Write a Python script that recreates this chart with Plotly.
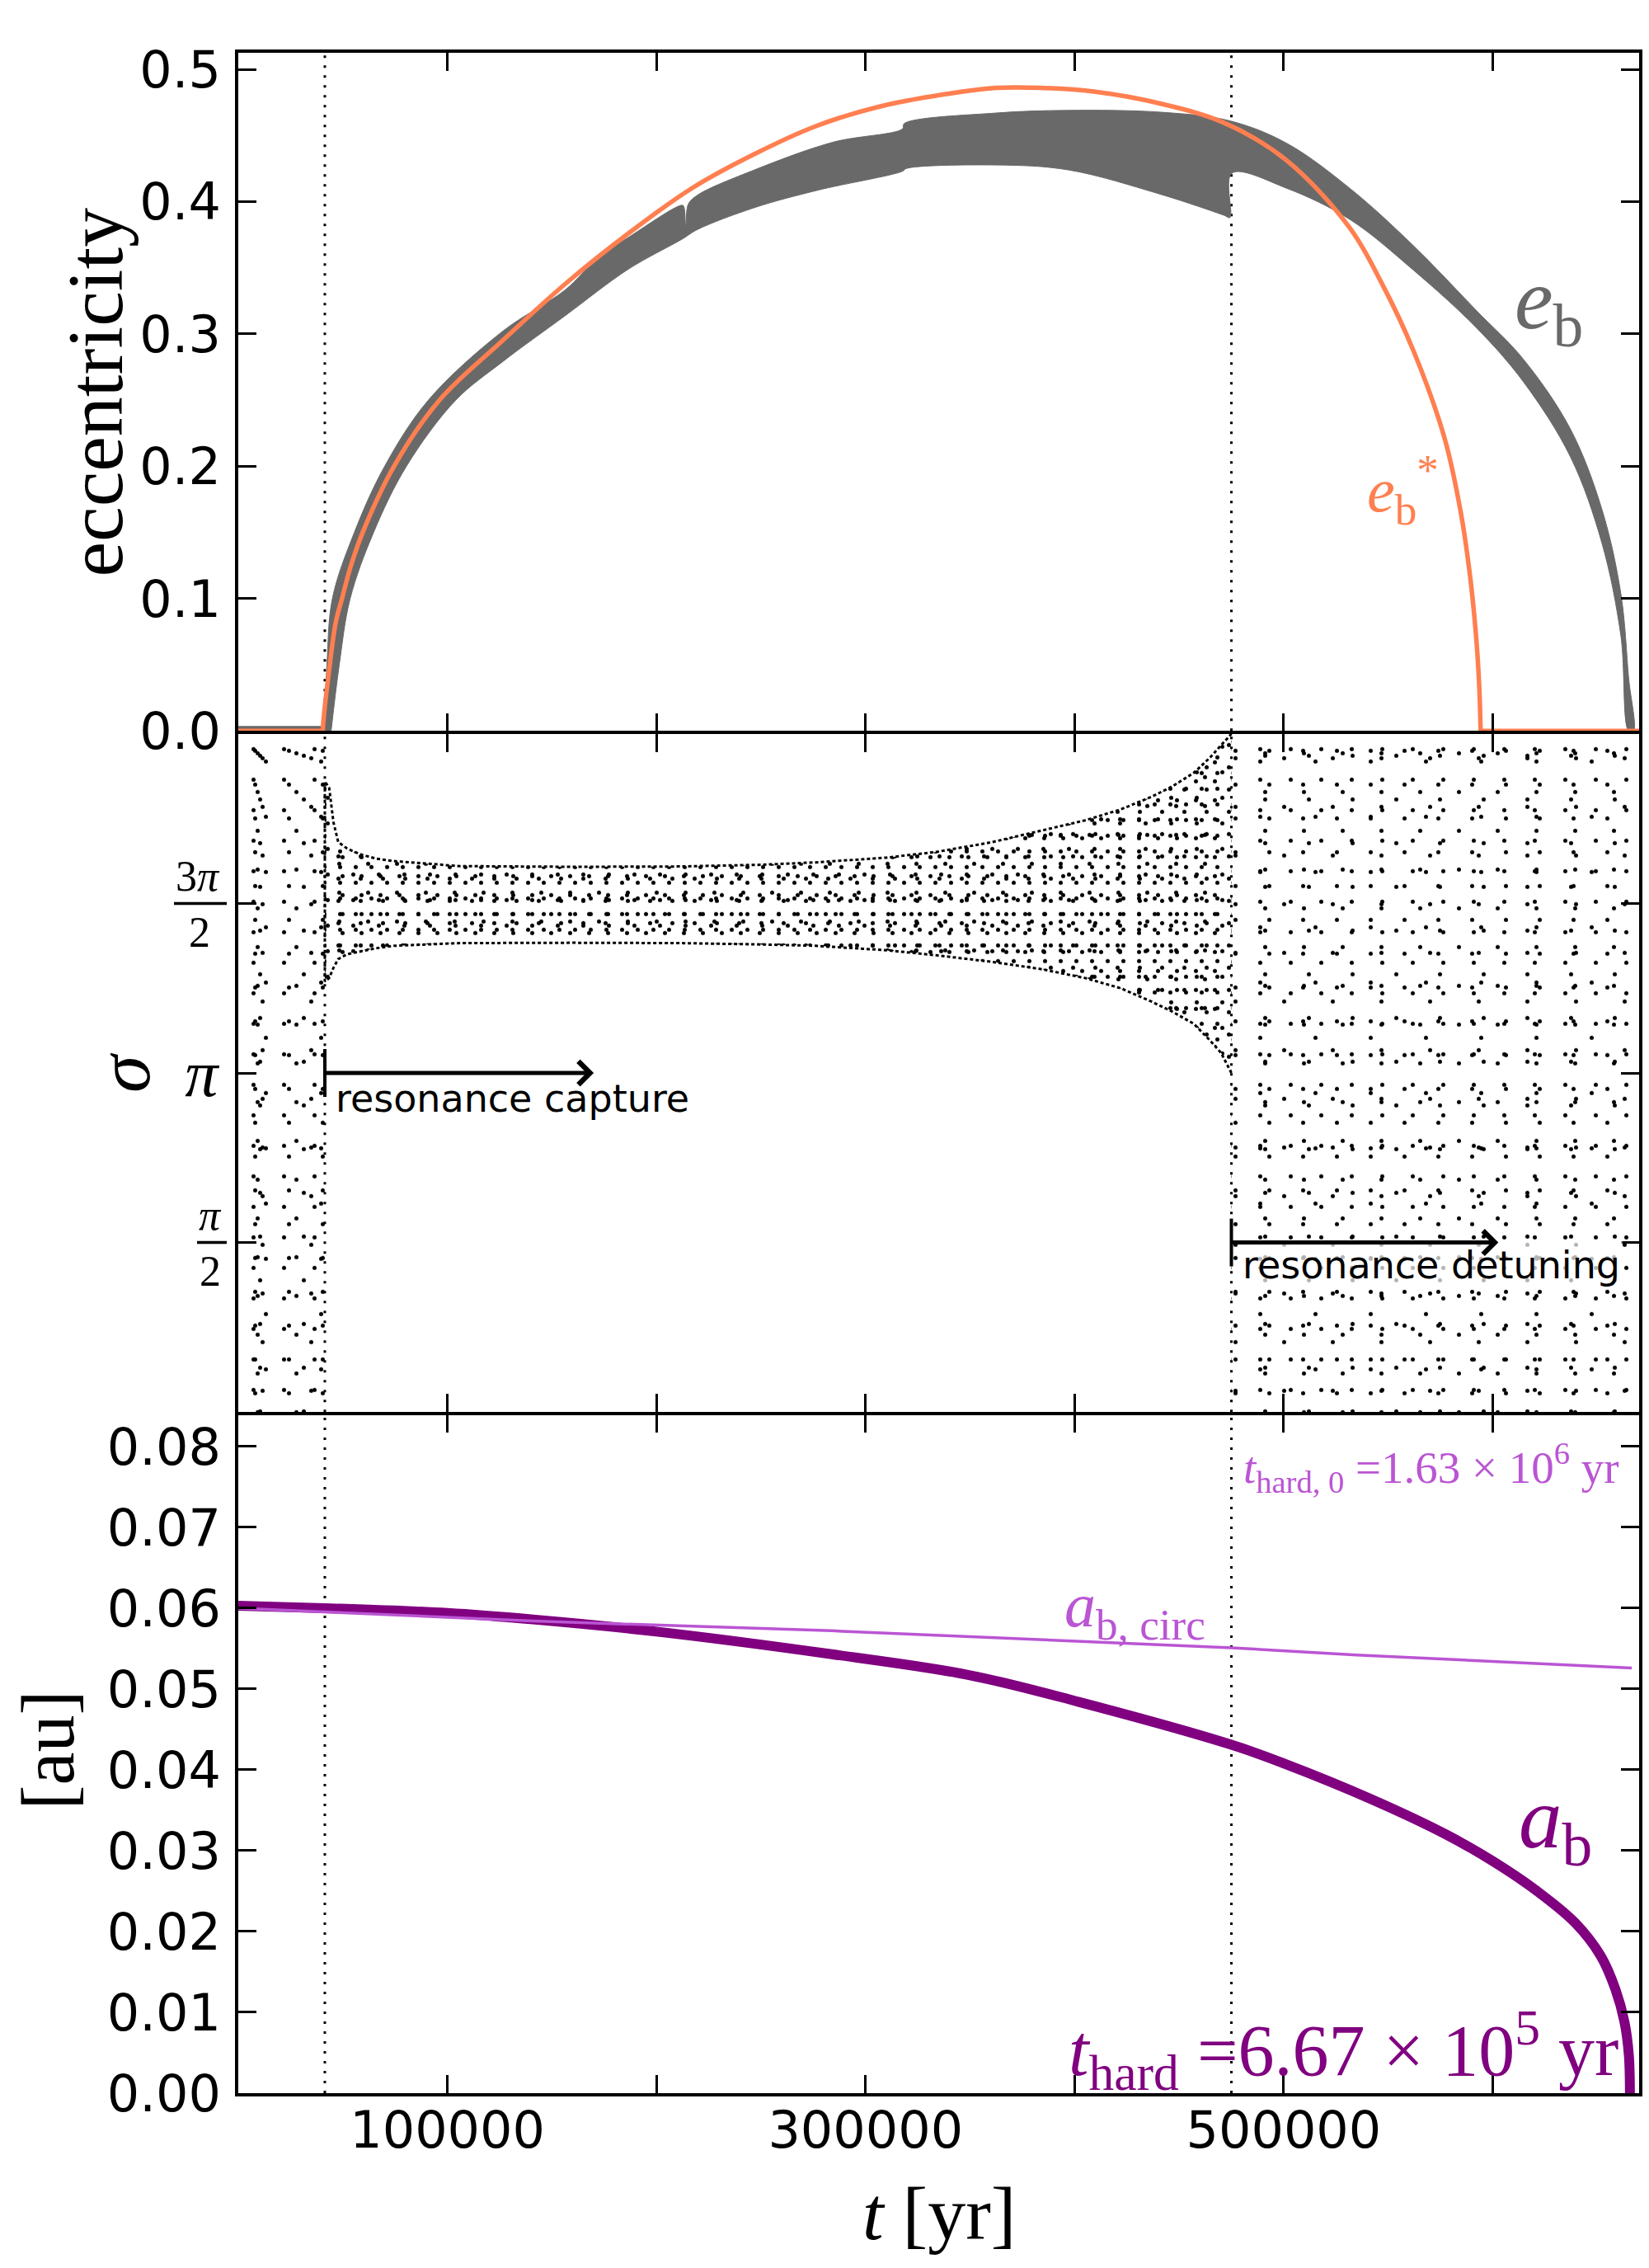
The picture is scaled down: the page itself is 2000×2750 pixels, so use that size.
import numpy as np
import plotly.graph_objects as go
from plotly.subplots import make_subplots

# ---------------------------------------------------------------- data
# key times [yr]
t_start = 0
t_capture = 41400
t_detune = 475000
t_end = 670000

# e_b* (equilibrium eccentricity)
estar_pre_t = [t_start, 40400]
estar_pre = [0.0, 0.0]
estar_t = [40400, 40800, 43000, 46600, 49600, 53500, 59500, 74500, 96200,
           126400, 156500, 186600, 216800, 246900, 277000, 307100, 337300,
           362600, 384000, 410000, 441300, 471500, 501600, 531700, 546800,
           561900, 577000, 584500, 589000, 592000, 593500, 594200]
estar = [0.0, 0.009, 0.040, 0.082, 0.100, 0.123, 0.150, 0.200, 0.250,
         0.295, 0.338, 0.376, 0.410, 0.436, 0.4575, 0.472, 0.481,
         0.486, 0.486, 0.483, 0.474, 0.4596, 0.431, 0.380, 0.3387,
         0.288, 0.221, 0.167, 0.119, 0.072, 0.035, 0.0]
estar_post_t = [594200, t_end]
estar_post = [0.0, 0.0]

# e_b oscillation band: upper and lower envelopes
eb_pre_t = [t_start, 41100]
eb_pre = [0.0, 0.0]
eb_up_t = [41100, 42400, 45000, 55500, 70000, 90900, 126400, 156500,
           171600, 186600, 210600, 212800, 214000, 215200, 219700, 246900,
           284600, 317700, 318500, 362600, 397000, 441300, 474500, 501600,
           531700, 561900, 592000, 614600, 637200, 652300, 661300, 665000, 667300]
eb_up = [0.0, 0.05, 0.10, 0.15, 0.20, 0.25, 0.302, 0.3335,
         0.357, 0.373, 0.3966, 0.397, 0.382, 0.398, 0.405, 0.424,
         0.445, 0.455, 0.459, 0.467, 0.469, 0.4676, 0.461, 0.444,
         0.410, 0.367, 0.318, 0.281, 0.228, 0.167, 0.1035, 0.04, 0.0]
eb_lo_t = [44400, 48300, 53500, 64700, 80400, 104000, 126400, 156500, 186600,
           212200, 219700, 246900, 277000, 317700, 319400, 362600, 397000,
           441300, 471500, 474300, 475200, 501600, 531700, 561900, 592000,
           614600, 637200, 652300, 661300, 665000]
eb_lo = [0.0, 0.05, 0.10, 0.15, 0.20, 0.25, 0.279, 0.314, 0.349,
         0.3716, 0.379, 0.3955, 0.4086, 0.423, 0.425, 0.4277, 0.424,
         0.4055, 0.3897, 0.388, 0.4215, 0.410, 0.3865, 0.3485, 0.305,
         0.264, 0.207, 0.1415, 0.0717, 0.0]

# resonant angle sigma: libration band envelopes (units of pi)
band_t = [41400, 43500, 45500, 47800, 52000, 58300, 66000, 74200, 106000,
          160000, 211300, 250000, 276000, 310000, 334000, 360000, 384300,
          405000, 422000, 437000, 447000, 457000, 464600, 470000, 475000]
band_up = [1.86, 1.84, 1.74, 1.681, 1.662, 1.645, 1.632, 1.625, 1.610,
           1.608, 1.609, 1.614, 1.621, 1.635, 1.652, 1.68, 1.715,
           1.745, 1.777, 1.815, 1.846, 1.885, 1.929, 1.965, 2.0]
band_lo = [1.27, 1.28, 1.31, 1.336, 1.35, 1.359, 1.368, 1.375, 1.383,
           1.384, 1.383, 1.379, 1.375, 1.362, 1.347, 1.328, 1.306,
           1.28, 1.25, 1.21, 1.18, 1.145, 1.097, 1.06, 1.0]
sigma_min, sigma_max = 0.0, 2.0   # circulating regions cover the full circle

# semi-major axis [au]
ab_t = [0, 41400, 100000, 141000, 200000, 283800, 350000, 402000, 475000,
        500000, 542500, 577700, 600000, 621700, 639300, 651600, 658600,
        663000, 665100, 665600]
ab = [0.0603, 0.0600, 0.0594, 0.0586, 0.0571, 0.0543, 0.0517, 0.0484, 0.0431,
      0.0408, 0.0363, 0.0320, 0.0287, 0.0249, 0.0211, 0.0170, 0.0129,
      0.0088, 0.0047, 0.0]
acirc_t = [0, 141000, 283800, 402000, 475000, 535000, 666500]
acirc = [0.0600, 0.0584, 0.0572, 0.0559, 0.0551, 0.0542, 0.0526]

x_tickvals = [0, 100000, 200000, 300000, 400000, 500000, 600000]
x_ticktext = ['', '100000', '', '300000', '', '500000', '']

GRAY = '#696969'
CORAL = '#FF7F50'
PURPLE = '#800080'
ORCHID = '#BA55D3'
SERIF = 'Liberation Serif'
SANS = 'DejaVu Sans'

PI = np.pi
LW = 3.5

fig = make_subplots(rows=3, cols=1, shared_xaxes=True,
                    vertical_spacing=LW / 2474)

# ---------------------------------------------------------------- panel 1
fig.add_trace(go.Scatter(x=eb_pre_t, y=eb_pre, mode='lines',
                         line=dict(color=GRAY, width=12)), row=1, col=1)
fig.add_trace(go.Scatter(x=eb_up_t + eb_lo_t[::-1], y=eb_up + eb_lo[::-1],
                         mode='lines', fill='toself', fillcolor=GRAY,
                         line=dict(color=GRAY, width=1, shape='spline', smoothing=1.0)),
              row=1, col=1)
for xs, ys, shp in [(estar_pre_t, estar_pre, 'linear'), (estar_t, estar, 'spline'),
                    (estar_post_t, estar_post, 'linear')]:
    fig.add_trace(go.Scatter(x=xs, y=ys, mode='lines',
                             line=dict(color=CORAL, width=5.5, shape=shp, smoothing=1.0)),
                  row=1, col=1)

# ---------------------------------------------------------------- panel 2
def stipple(xs, ys, sizes, dot_r=2.5):
    for size in sizes:
        fig.add_trace(go.Scatter(
            x=xs, y=ys, mode='lines', fill='toself',
            fillcolor='rgba(0,0,0,0)', line=dict(width=0),
            fillpattern=dict(shape='.', size=size,
                             solidity=PI * dot_r ** 2 / size ** 2,
                             fgcolor='black', bgcolor='rgba(0,0,0,0)',
                             fgopacity=1),
            hoverinfo='skip'), row=2, col=1)


for ta, tb in [(t_start, t_capture), (t_detune, t_end)]:
    stipple([ta, tb, tb, ta],
            [sigma_min * PI, sigma_min * PI, sigma_max * PI, sigma_max * PI],
            [37, 41, 47, 53, 59, 67])

band_x = band_t + band_t[::-1]
band_y = [v * PI for v in band_up + band_lo[::-1]]
stipple(band_x, band_y, [19, 23, 27, 31, 35])

fig.add_trace(go.Scatter(x=band_t[::-1] + band_t,
                         y=[v * PI for v in band_lo[::-1] + band_up],
                         mode='lines',
                         line=dict(color='black', width=3, dash='4px,3px')),
              row=2, col=1)

# ---------------------------------------------------------------- panel 3
fig.add_trace(go.Scatter(x=ab_t, y=ab, mode='lines',
                         line=dict(color=PURPLE, width=12, shape='spline', smoothing=1.0)),
              row=3, col=1)
fig.add_trace(go.Scatter(x=acirc_t, y=acirc, mode='lines',
                         line=dict(color=ORCHID, width=3.5)), row=3, col=1)

# vertical dotted markers
for t in (t_capture, t_detune):
    for r in (1, 2, 3):
        fig.add_vline(x=t, line=dict(color='black', width=3, dash='3px,9px'),
                      layer='below', row=r, col=1)

# ---------------------------------------------------------------- axes
fig.update_xaxes(range=[t_start, t_end], tickvals=x_tickvals, ticktext=x_ticktext,
                 ticks='inside', ticklen=22, tickwidth=3, tickcolor='black',
                 showline=True, linewidth=LW, linecolor='black',
                 mirror='allticks', showgrid=False, zeroline=False,
                 tickfont=dict(family=SANS, size=62, color='black'),
                 ticklabelstandoff=-12)
common_y = dict(ticks='inside', ticklen=22, tickwidth=3, tickcolor='black',
                showline=True, linewidth=LW, linecolor='black',
                mirror='allticks', showgrid=False, zeroline=False,
                ticklabelstandoff=5)
fig.update_yaxes(range=[0, 0.5125], tickvals=[0, 0.1, 0.2, 0.3, 0.4, 0.5],
                 tickformat='.1f', tickfont=dict(family=SANS, size=62, color='black'),
                 row=1, col=1, **common_y)
fig.update_yaxes(range=[0, 2 * PI], tickvals=[PI / 2, PI, 3 * PI / 2],
                 ticktext=['', '<i>π</i>', ''],
                 tickfont=dict(family=SERIF, size=80, color='black'),
                 row=2, col=1, **common_y)
fig.update_yaxes(range=[0, 0.0839], tickvals=[0, 0.01, 0.02, 0.03, 0.04, 0.05, 0.06, 0.07, 0.08],
                 tickformat='.2f', tickfont=dict(family=SANS, size=62, color='black'),
                 row=3, col=1, **common_y)

# stacked fraction tick labels for sigma
for val, num, nx, dx, (l0, l1) in [(3 * PI / 2, '3<i>π</i>', -49, -47, (-78, -14)),
                                   (PI / 2, '<i>π</i>', -34, -34, (-50, -14))]:
    fig.add_annotation(text=num, xref='paper', x=0, xshift=nx, xanchor='center',
                       yref='y2', y=val, yanchor='middle', yshift=33, showarrow=False,
                       font=dict(family=SERIF, size=52, color='black'))
    fig.add_annotation(text='2', xref='paper', x=0, xshift=dx, xanchor='center',
                       yref='y2', y=val, yanchor='middle', yshift=-35, showarrow=False,
                       font=dict(family=SERIF, size=52, color='black'))
    fig.add_shape(type='line', xref='paper', xsizemode='pixel', xanchor=0,
                  x0=l0, x1=l1, yref='y2', ysizemode='pixel', yanchor=val,
                  y0=0, y1=0, line=dict(color='black', width=3.5))

# ---------------------------------------------------------------- labels
ann = dict(showarrow=False, xanchor='center', yanchor='middle')
fig.add_annotation(text='eccentricity', xref='paper', x=0, xshift=-173,
                   yref='y', y=0.256, textangle=-90,
                   font=dict(family=SERIF, size=96, color='black'), **ann)
fig.add_annotation(text='<i>σ</i>', xref='paper', x=0, xshift=-139,
                   yref='y2', y=PI, textangle=-90,
                   font=dict(family=SERIF, size=92, color='black'), **ann)
fig.add_annotation(text='[au]', xref='paper', x=0, xshift=-231,
                   yref='y3', y=0.0424, textangle=-90,
                   font=dict(family=SERIF, size=90, color='black'), **ann)
fig.add_annotation(text='<i>t</i> [yr]', xref='paper', x=0.5, yref='paper', y=0,
                   yshift=-146,
                   font=dict(family=SERIF, size=92, color='black'), **ann)

fig.add_annotation(text='<i>e</i><sub>b</sub>', xref='x', yref='y', x=627000, y=0.322,
                   font=dict(family=SERIF, size=105, color=GRAY), **ann)
fig.add_annotation(text='<i>e</i><sub>b</sub><sup>*</sup>', xref='x', yref='y',
                   x=557000, y=0.182,
                   font=dict(family=SERIF, size=76, color=CORAL), **ann)

fig.add_annotation(text='<i>a</i><sub>b</sub>', xref='x3', yref='y3', x=630000, y=0.0333,
                   font=dict(family=SERIF, size=105, color=PURPLE), **ann)
fig.add_annotation(text='<i>a</i><sub>b, circ</sub>', xref='x3', yref='y3',
                   x=429000, y=0.0598,
                   font=dict(family=SERIF, size=76, color=ORCHID), **ann)
ann_r = dict(showarrow=False, xanchor='right', yanchor='middle')
fig.add_annotation(text='<i>t</i><sub>hard, 0</sub> =1.63 × 10<sup>6</sup> yr',
                   xref='x3', yref='y3', x=661500, y=0.0774,
                   font=dict(family=SERIF, size=55, color=ORCHID), **ann_r)
fig.add_annotation(text='<i>t</i><sub>hard</sub> =6.67 × 10<sup>5</sup> yr',
                   xref='x3', yref='y3', x=661000, y=0.0054,
                   font=dict(family=SERIF, size=88, color=PURPLE), **ann_r)

# resonance arrows
for t0, t1, yv, label, ys, bg in [
        (t_capture, 170000, PI, 'resonance capture', -31, 'rgba(0,0,0,0)'),
        (t_detune, 602700, PI / 2, 'resonance detuning', -27, 'rgba(255,255,255,0.7)')]:
    fig.add_annotation(text=label, xref='x2', yref='y2', x=t0, y=yv,
                       xanchor='left', xshift=10, yanchor='middle', yshift=ys,
                       bgcolor=bg, borderpad=2, showarrow=False,
                       font=dict(family=SANS, size=46, color='black'))
    fig.add_annotation(text='', xref='x2', yref='y2', x=t1, y=yv,
                       axref='x2', ayref='y2', ax=t0, ay=yv, showarrow=True,
                       arrowhead=4, arrowsize=1.1, arrowwidth=5, arrowcolor='black',
                       standoff=0, startstandoff=0)
    fig.add_shape(type='line', xref='x2', x0=t0, x1=t0, yref='y2',
                  ysizemode='pixel', yanchor=yv, y0=-29, y1=29,
                  line=dict(color='black', width=4))

fig.update_layout(width=2000, height=2750,
                  margin=dict(l=281, r=20, t=56, b=220),
                  plot_bgcolor='white', paper_bgcolor='white',
                  showlegend=False, font=dict(family=SANS, color='black'))

fig.write_html("out.html")
